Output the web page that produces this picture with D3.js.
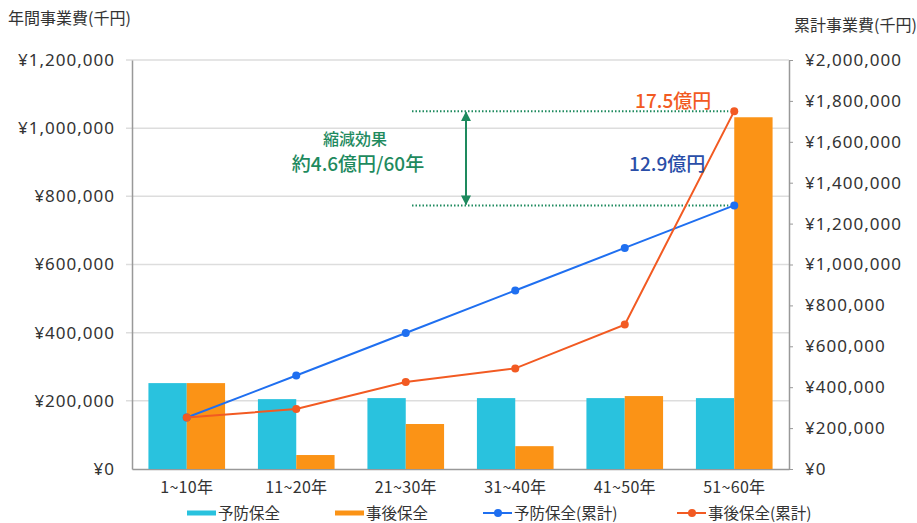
<!DOCTYPE html>
<html>
<head>
<meta charset="utf-8">
<script src="https://cdn.jsdelivr.net/npm/d3@7"></script>
<style>
  body { margin: 0; background: #fff; font-family: "Noto Sans CJK JP", "Noto Sans", sans-serif; }
  .axis text { font-size: 17px; fill: #333; letter-spacing: 1px; font-family: "Noto Sans", sans-serif; }
  .axis path, .axis line { stroke: #999; }
</style>
</head>
<body>
<div id="chart"></div>
<script>
// chart data
const categories = ["1~10年", "11~20年", "21~30年", "31~40年", "41~50年", "51~60年"];
const yobou = [252000, 205000, 208000, 208000, 208000, 208000];          // 予防保全
const jigo = [252000, 41000, 132000, 67000, 214000, 1032000];            // 事後保全
const yobouCum = [252000, 457000, 665000, 873000, 1081000, 1289000];     // 予防保全(累計)
const jigoCum = [252000, 293000, 425000, 492000, 706000, 1750000];       // 事後保全(累計)
const leftTicks = [0, 200000, 400000, 600000, 800000, 1000000, 1200000];
const rightTicks = d3.range(0, 2000001, 200000);

const colors = { yobou: "#29c2de", jigo: "#fb9316", yobouLine: "#1f6ff0", jigoLine: "#f25a22", green: "#1e8a5e" };

const W = 917, H = 523;
const margin = { top: 60, right: 128, bottom: 54, left: 132 };
const width = W - margin.left - margin.right,
    height = H - margin.top - margin.bottom;

const svg = d3.select("#chart").append("svg")
    .attr("width", W).attr("height", H);

const g = svg.append("g")
    .attr("transform", "translate(" + margin.left + "," + margin.top + ")");

// scales
const x = d3.scaleBand().domain(categories).range([0, width]).paddingInner(0.3).paddingOuter(0.15);
const xSub = d3.scaleBand().domain(["yobou", "jigo"]).range([0, x.bandwidth()]);
const yL = d3.scaleLinear().domain([0, 1200000]).range([height, 0]);
const yR = d3.scaleLinear().domain([0, 2000000]).range([height, 0]);
const xBand = d3.scaleBand().domain(categories).range([0, width]);
const cx = d => xBand(d) + xBand.bandwidth() / 2;

const fmt = d => "¥" + d3.format(",")(d);

// gridlines
g.append("g").selectAll("line")
    .data(leftTicks.slice(1))
    .enter().append("line")
    .attr("x1", -6).attr("x2", width)
    .attr("y1", d => yL(d)).attr("y2", d => yL(d))
    .attr("stroke", "#ddd").attr("stroke-width", 1.5);

// axes
g.append("g").attr("class", "axis")
    .call(d3.axisLeft(yL).tickValues(leftTicks).tickFormat(fmt).tickSize(0).tickPadding(17))
    .call(a => a.select(".domain").attr("stroke", "#999").attr("stroke-width", 1.5));

g.append("g").attr("class", "axis")
    .attr("transform", "translate(" + width + ",0)")
    .call(d3.axisRight(yR).tickValues(rightTicks).tickFormat(fmt).tickSize(4).tickSizeOuter(0).tickPadding(12))
    .call(a => a.select(".domain").attr("stroke", "#999").attr("stroke-width", 1.5));

g.append("g").attr("class", "axis")
    .attr("transform", "translate(0," + height + ")")
    .call(d3.axisBottom(xBand).tickSize(0).tickPadding(13))
    .call(a => a.select(".domain").attr("stroke", "#999").attr("stroke-width", 1.5))
    .selectAll("text")
    .style("font-size", "16px")
    .style("letter-spacing", "0.3px")
    .style("font-family", "'Noto Sans CJK JP', sans-serif");

// bars
const groups = g.selectAll(".grp").data(categories).enter().append("g")
    .attr("class", "grp")
    .attr("transform", d => "translate(" + x(d) + ",0)");

groups.append("rect")
    .attr("x", xSub("yobou")).attr("width", xSub.bandwidth())
    .attr("y", (d, i) => yL(yobou[i])).attr("height", (d, i) => height - yL(yobou[i]))
    .attr("fill", colors.yobou);

groups.append("rect")
    .attr("x", xSub("jigo")).attr("width", xSub.bandwidth())
    .attr("y", (d, i) => yL(jigo[i])).attr("height", (d, i) => height - yL(jigo[i]))
    .attr("fill", colors.jigo);

// annotation dotted lines
const lastX = cx(categories[categories.length - 1]);
const annX1 = 280;
[jigoCum[5], yobouCum[5]].forEach(v => {
    g.append("line")
        .attr("x1", annX1).attr("x2", lastX - 6)
        .attr("y1", yR(v)).attr("y2", yR(v))
        .attr("stroke", colors.green).attr("stroke-width", 2)
        .attr("stroke-dasharray", "1.5,2");
});

// lines
const line = d3.line().x((d, i) => cx(categories[i])).y(d => yR(d));
[[yobouCum, colors.yobouLine], [jigoCum, colors.jigoLine]].forEach(([data, c]) => {
    g.append("path").datum(data).attr("d", line)
        .attr("fill", "none").attr("stroke", c).attr("stroke-width", 2);
    g.selectAll(null).data(data).enter().append("circle")
        .attr("cx", (d, i) => cx(categories[i])).attr("cy", d => yR(d))
        .attr("r", 4).attr("fill", c);
});

// arrow
const defs = svg.append("defs");
["s", "e"].forEach(k => {
    defs.append("marker").attr("id", "arr" + k)
        .attr("viewBox", "0 0 10 10").attr("refX", 9).attr("refY", 5)
        .attr("markerWidth", 5).attr("markerHeight", 5)
        .attr("orient", "auto-start-reverse")
        .append("path").attr("d", "M0,0 L10,5 L0,10 z").attr("fill", colors.green);
});
const arrX = 334;
g.append("line")
    .attr("x1", arrX).attr("x2", arrX)
    .attr("y1", yR(jigoCum[5]) + 1).attr("y2", yR(yobouCum[5]) - 1)
    .attr("stroke", colors.green).attr("stroke-width", 2)
    .attr("marker-start", "url(#arrs)").attr("marker-end", "url(#arre)");

// annotation text
g.append("text").attr("x", 223).attr("y", yR(jigoCum[5]) + 34)
    .attr("text-anchor", "middle").attr("fill", colors.green)
    .style("font-size", "16px").style("font-weight", 500).text("縮減効果");
g.append("text").attr("x", 226).attr("y", yR(jigoCum[5]) + 60)
    .attr("text-anchor", "middle").attr("fill", colors.green)
    .style("font-size", "19px").style("font-weight", 500).text("約4.6億円/60年");
g.append("text").attr("x", lastX - 23).attr("y", yR(jigoCum[5]) - 3)
    .attr("text-anchor", "end").attr("fill", colors.jigoLine)
    .style("font-size", "19px").style("font-weight", 500).text("17.5億円");
g.append("text").attr("x", lastX - 29).attr("y", yR(yobouCum[5]) - 34)
    .attr("text-anchor", "end").attr("fill", "#2a4ea8")
    .style("font-size", "19px").style("font-weight", 500).text("12.9億円");

// axis titles
svg.append("text").attr("x", 8).attr("y", 24)
    .style("font-size", "16px").attr("fill", "#333").text("年間事業費(千円)");
svg.append("text").attr("x", 794).attr("y", 31)
    .style("font-size", "16px").attr("fill", "#333").text("累計事業費(千円)");

// legend
const legend = svg.append("g").attr("transform", "translate(0,513)");
const items = [
    { label: "予防保全", type: "bar", c: colors.yobou, x: 187 },
    { label: "事後保全", type: "bar", c: colors.jigo, x: 335 },
    { label: "予防保全(累計)", type: "line", c: colors.yobouLine, x: 483 },
    { label: "事後保全(累計)", type: "line", c: colors.jigoLine, x: 677 }
];
items.forEach(it => {
    legend.append("line").attr("x1", it.x).attr("x2", it.x + 29).attr("y1", 0).attr("y2", 0)
        .attr("stroke", it.c).attr("stroke-width", it.type === "bar" ? 5 : 2);
    if (it.type === "line") {
        legend.append("circle").attr("cx", it.x + 15).attr("cy", 0).attr("r", 4).attr("fill", it.c);
    }
    legend.append("text").attr("x", it.x + 31).attr("y", 5.5)
        .style("font-size", "15.5px").attr("fill", "#333").text(it.label);
});
</script>
</body>
</html>
